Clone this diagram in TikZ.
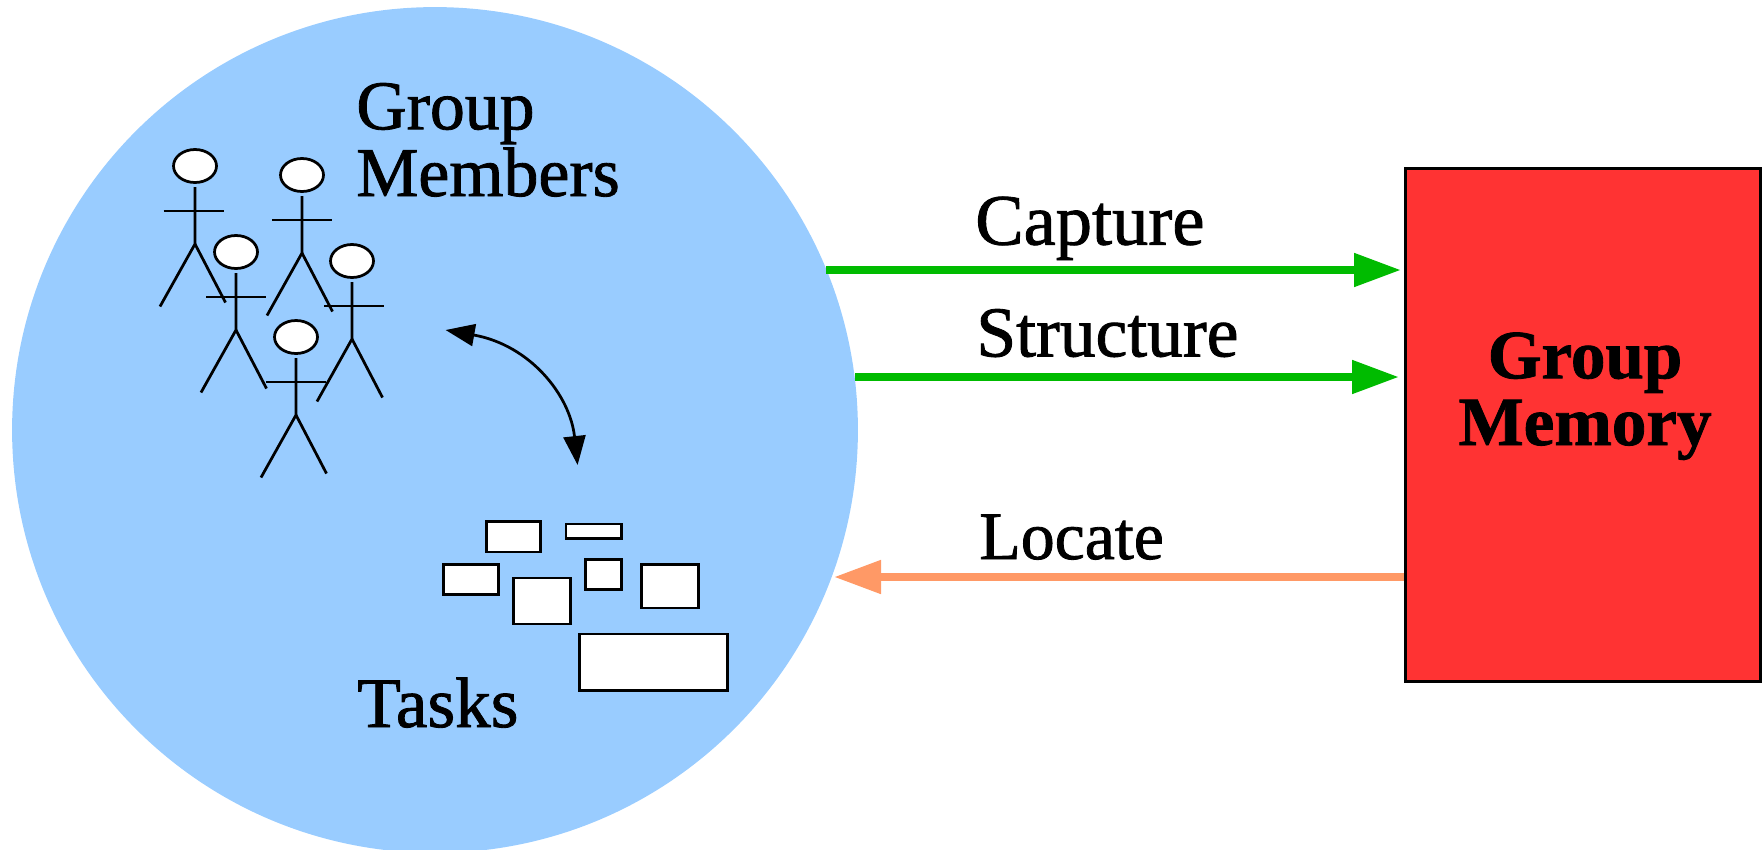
\documentclass[tikz,border=0pt]{standalone}
\usepackage{fontspec}
\setmainfont{Liberation Serif}[FakeBold=1.2]
\usetikzlibrary{arrows.meta,shapes.geometric}
\definecolor{groupblue}{HTML}{99CCFF}
\definecolor{memoryred}{HTML}{FF3333}
\definecolor{flowgreen}{HTML}{00BB00}
\definecolor{flowpeach}{HTML}{FF9966}
\tikzset{
	thinline/.style={line width=0.055cm},
	head/.style={ellipse, draw, thinline, fill=white, inner sep=0pt, minimum width=0.86cm, minimum height=0.66cm},
	taskbox/.style={draw, thinline, fill=white, inner sep=0pt},
	label/.style={inner sep=0pt, font=\fontsize{39.7}{38}\selectfont},
	flow/.style={line width=0.16cm, -{Triangle[length=0.94cm, width=0.64cm]}},
}
\begin{document}
\begin{tikzpicture}[x=0.02cm, y=-0.02cm]
	\useasboundingbox (0,0) rectangle (1763,849);
	\node (group) [circle, fill=groupblue, inner sep=0pt, minimum size=16.92cm] at (435,430) {};
	\node (memory) [rectangle, draw, thinline, fill=memoryred, inner sep=0pt, minimum width=7.1cm, minimum height=10.25cm] at (1583,425) {};

	\node (members) [label, anchor=base west, align=left] at (356,196) {Group\\Members};
	\node (tasks) [label, anchor=base west, font=\fontsize{40.5}{38}\selectfont] at (357,727) {Tasks};
	\node (memorylabel) [label, anchor=base, align=center, font=\fontsize{39.3}{38}\selectfont\bfseries] at (1585,445) {Group\\Memory};

	\foreach \n/\x/\y/\a in {a/195/166/-1.5, b/302/175/0, c/236/252/0, d/352/261/2, e/296/337/0} {
		\node (head\n) [head] at (\x,\y) {};
		\draw[thinline] (\x,\y+21) -- (\x,\y+78) -- (\x-35,\y+140.5);
		\draw[thinline] (\x,\y+78) -- (\x+30.5,\y+136.5);
		\draw[thinline] (\x-30+\a,\y+45) -- (\x+30+\a,\y+45);
	}

	\foreach \n/\x/\y/\w/\h in {a/513.4/536.7/56.8/33.3, b/593.8/531.4/57.9/17.3, c/471.2/579.5/57.2/33, d/542/601/59.5/48.6, e/603.4/574.4/38.7/32.7, f/669.8/586.3/59.5/46, g/653.7/662.4/150.2/59.3} {
		\node (task\n) [taskbox, minimum width=(\w-2.5)*0.02cm, minimum height=(\h-2.5)*0.02cm] at (\x,\y) {};
	}

	\coordinate (talkstart) at (445.6,330);
	\coordinate (talkend) at (577.6,465);
	\draw[line width=0.055cm, {Triangle[length=0.58cm, width=0.44cm]}-{Triangle[length=0.58cm, width=0.44cm]}] (talkstart) .. controls (530,345) and (570,395) .. (talkend);

	\coordinate (capturestart) at (826,270);
	\coordinate (captureend) at (1401,270);
	\coordinate (structurestart) at (855,377);
	\coordinate (structureend) at (1399,377);
	\coordinate (locateend) at (834,577);
	\draw[flow, flowgreen] (capturestart) -- (captureend);
	\draw[flow, flowgreen] (structurestart) -- (structureend);
	\draw[flow, flowpeach] (memory.west |- locateend) -- (locateend);

	\node (capture) [label, anchor=base west, font=\fontsize{41.2}{38}\selectfont] at (975,244.6) {Capture};
	\node (structure) [label, anchor=base west, font=\fontsize{40.7}{38}\selectfont] at (976,356.4) {Structure};
	\node (locate) [label, anchor=base west, font=\fontsize{38.6}{38}\selectfont] at (979,559) {Locate};
\end{tikzpicture}
\end{document}
